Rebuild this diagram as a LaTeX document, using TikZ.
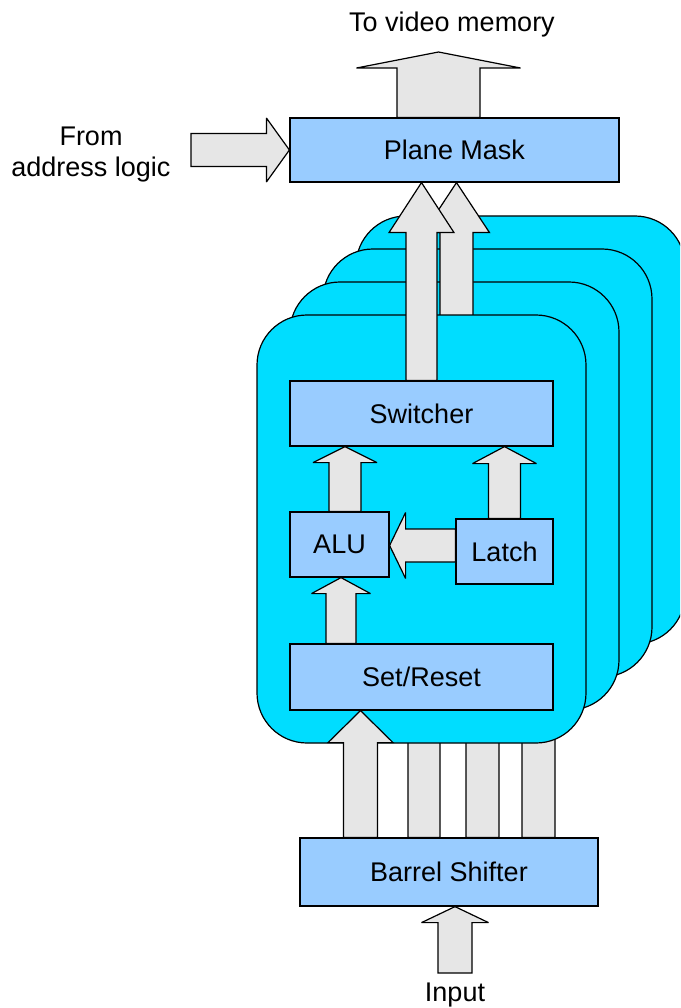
\documentclass[tikz,border=0pt]{standalone}
\usepackage{fontspec}
\setmainfont{Liberation Sans}
\usetikzlibrary{calc}
\definecolor{planecol}{HTML}{00DDFF}
\definecolor{boxcol}{HTML}{99CCFF}
\definecolor{arrcol}{HTML}{E6E6E6}
\tikzset{
  blockarrow/.style={fill=arrcol, draw=black, line width=1.2pt, line join=miter, miter limit=3},
  planebox/.style={fill=planecol, draw=black, line width=1.2pt, rounded corners=50pt},
  unitbox/.style={rectangle, fill=boxcol, draw=black, line width=1.2pt, inner sep=0pt,
     font=\fontsize{27}{31}\selectfont},
  lbl/.style={font=\fontsize{27}{31}\selectfont, align=center, inner sep=0pt}
}
% #1 tail, #2 tip, #3 shaft half width, #4 head half width, #5 head length
\newcommand{\barrow}[5]{%
  \path (#1) coordinate (ba-a) (#2) coordinate (ba-b);
  \coordinate (ba-h) at ($(ba-b)!#5!(ba-a)$);
  \filldraw[blockarrow] ($(ba-a)!#3!90:(ba-b)$) -- ($(ba-h)!#3!90:(ba-b)$) -- ($(ba-h)!#4!90:(ba-b)$)
    -- (ba-b) -- ($(ba-h)!#4!-90:(ba-b)$) -- ($(ba-h)!#3!-90:(ba-b)$) -- ($(ba-a)!#3!-90:(ba-b)$) -- cycle;
}
\begin{document}
\begin{tikzpicture}[x=1pt, y=-1pt]
\useasboundingbox (0,0) rectangle (680,1008);
\clip (0,0) rectangle (680,1008);

% nodes outside the planes
\node[unitbox, minimum width=329pt, minimum height=64pt] (mask) at (454.5,150) {Plane Mask};
\node[unitbox, minimum width=298pt, minimum height=68pt] (barrel) at (449,872) {Barrel Shifter};

% hidden tips for the other planes
\coordinate (sr1) at (424,677);
\coordinate (sr2) at (482.5,644);
\coordinate (sr3) at (538.5,611);
\barrow{$(barrel.north)+(-25,0)$}{sr1}{16pt}{32pt}{32pt}
\barrow{$(barrel.north)+(33.5,0)$}{sr2}{16.5pt}{32pt}{32pt}
\barrow{$(barrel.north)+(89.5,0)$}{sr3}{16.5pt}{32pt}{32pt}

% stacked planes, back to front
\foreach \k in {3,2,1} {
  \draw[planebox] ({257+33*\k},{315-33*\k}) rectangle ({586+33*\k},{743-33*\k});
}
\coordinate (sw1) at (456.5,340);
\barrow{sw1}{$(mask.south)+(2,0)$}{16.5pt}{33pt}{50pt}
\draw[planebox] (257,315) rectangle (586,743);

% units in the front plane
\node[unitbox, minimum width=263pt, minimum height=65pt] (switcher) at (421.5,413.5) {Switcher};
\node[unitbox, minimum width=99pt, minimum height=65pt] (alu) at (339.5,544.5) {ALU};
\node[unitbox, minimum width=97pt, minimum height=65pt] (latch) at (504.5,551.5) {Latch};
\node[unitbox, minimum width=263pt, minimum height=66pt] (setreset) at (421.5,677) {Set/Reset};

% connectors
\barrow{switcher.north}{$(mask.south)+(-33,0)$}{15.5pt}{32.5pt}{50pt}
\barrow{$(alu.north)+(5.5,0)$}{$(switcher.south)+(-76.5,0)$}{16pt}{32pt}{16pt}
\barrow{latch.north}{$(switcher.south)+(83,0)$}{16pt}{32pt}{17pt}
\barrow{$(latch.west)+(0,-6)$}{$(alu.east)+(0,1)$}{16.5pt}{33pt}{16pt}
\barrow{$(setreset.north)+(-80.5,0)$}{$(alu.south)+(1.5,0)$}{15pt}{29.5pt}{16pt}
\barrow{$(barrel.north)+(-88.5,0)$}{$(setreset.south)+(-61,0)$}{17pt}{32.5pt}{32pt}

\coordinate (mem) at (438.5,52);
\barrow{$(mask.north)+(-16,0)$}{mem}{41.5pt}{82pt}{16pt}
\coordinate (addr) at (191,150);
\barrow{addr}{mask.west}{16.5pt}{32pt}{23pt}
\coordinate (inp) at (455,973);
\barrow{inp}{$(barrel.south)+(6,0)$}{17pt}{33.5pt}{16pt}

% labels
\node[lbl] (tvm) at (452,25) {To video memory};
\node[lbl] (fal) at (91,155) {From\\address logic};
\node[lbl] (inl) at (455,995) {Input};
\end{tikzpicture}
\end{document}
